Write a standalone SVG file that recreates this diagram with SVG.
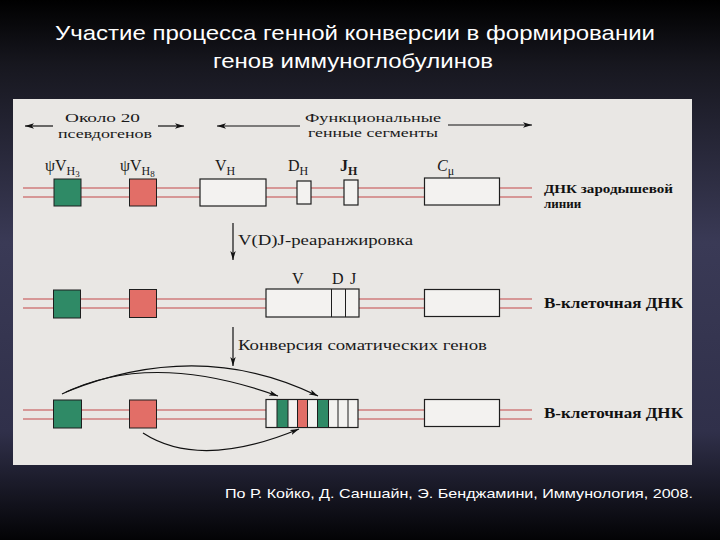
<svg xmlns="http://www.w3.org/2000/svg" width="720" height="540" viewBox="0 0 720 540">
<defs>
<linearGradient id="bg" x1="0" y1="0" x2="0" y2="1">
<stop offset="0" stop-color="#000000"/>
<stop offset="0.12" stop-color="#17171f"/>
<stop offset="0.45" stop-color="#3a3a56"/>
<stop offset="0.8" stop-color="#30304a"/>
<stop offset="1" stop-color="#030305"/>
</linearGradient>
<marker id="ah" viewBox="0 0 10 6" refX="10" refY="3" markerWidth="9" markerHeight="5.4" markerUnits="userSpaceOnUse" orient="auto">
<path d="M0,0 L10,3 L0,6 L2.5,3 Z" fill="#111"/>
</marker>
<style>
.title{font-family:"Liberation Sans",Arial,sans-serif;fill:#ffffff;font-size:21px}
.foot{font-family:"Liberation Sans",Arial,sans-serif;fill:#ffffff;font-size:13px}
.lbl{font-family:"Liberation Serif","Times New Roman",serif;fill:#1a1a1a;font-size:15px}
.hd{font-family:"Liberation Serif","Times New Roman",serif;fill:#1a1a1a;font-size:13.5px}
.big{font-family:"Liberation Serif","Times New Roman",serif;fill:#1a1a1a;font-size:16px}
.bold{font-family:"Liberation Serif","Times New Roman",serif;fill:#111;font-size:13px;font-weight:bold}
.bold2{font-family:"Liberation Serif","Times New Roman",serif;fill:#111;font-size:14.5px;font-weight:bold}
.dna{stroke:#cf7d7d;stroke-width:1.6;fill:none}
.g{fill:#2f8a66;stroke:#1e1e1e;stroke-width:1}
.r{fill:#e26e67;stroke:#1e1e1e;stroke-width:1}
.w{fill:#f3f2f0;stroke:#1e1e1e;stroke-width:1.2}
.ln{stroke:#1e1e1e;stroke-width:1;fill:none}
.arr{stroke:#111;stroke-width:1.2;fill:none;marker-end:url(#ah)}
</style>
</defs>
<rect width="720" height="540" fill="url(#bg)"/>
<text class="title" x="355" y="40" text-anchor="middle" textLength="600" lengthAdjust="spacingAndGlyphs">Участие процесса генной конверсии в формировании</text>
<text class="title" x="353" y="68" text-anchor="middle" textLength="280" lengthAdjust="spacingAndGlyphs">генов иммуноглобулинов</text>
<rect x="13" y="99" width="679" height="366" fill="#e9e7e4"/>

<g id="header">
<text class="hd" x="65" y="122" textLength="75" lengthAdjust="spacingAndGlyphs">Около 20</text>
<text class="hd" x="58" y="137.5" textLength="94" lengthAdjust="spacingAndGlyphs">псевдогенов</text>
<text class="hd" x="305" y="121.5" textLength="136" lengthAdjust="spacingAndGlyphs">Функциональные</text>
<text class="hd" x="308" y="137" textLength="130" lengthAdjust="spacingAndGlyphs">генные сегменты</text>
</g>

<g id="row1">
<line class="dna" x1="23" y1="188" x2="532" y2="188"/>
<line class="dna" x1="23" y1="197" x2="532" y2="197"/>
<g id="psiVH3"><rect class="g" x="54" y="179" width="27" height="27"/><text class="big" x="45" y="171">ψV<tspan font-size="12" dy="4">H</tspan><tspan font-size="9" dy="2">3</tspan></text></g>
<g id="psiVH8"><rect class="r" x="129.5" y="179" width="27" height="27"/><text class="big" x="120" y="171">ψV<tspan font-size="12" dy="4">H</tspan><tspan font-size="9" dy="2">8</tspan></text></g>
<g id="VH"><rect class="w" x="200" y="179" width="66" height="27"/><text class="big" x="215" y="171">V<tspan font-size="12" dy="4">H</tspan></text></g>
<g id="DH"><rect class="w" x="297" y="181" width="14" height="23"/><text class="big" x="288" y="171">D<tspan font-size="12" dy="4">H</tspan></text></g>
<g id="JH"><rect class="w" x="344" y="180" width="14" height="25"/><text class="big" x="340" y="171" font-weight="bold">J<tspan font-size="12" dy="4">H</tspan></text></g>
<g id="Cmu1"><rect class="w" x="424.5" y="178" width="75" height="27"/><text class="big" x="437" y="171" font-style="italic">C<tspan font-size="12" dy="4" font-style="normal">μ</tspan></text></g>
<text class="bold" x="544" y="193" textLength="129" lengthAdjust="spacingAndGlyphs">ДНК зародышевой</text>
<text class="bold" x="544" y="208">линии</text>
</g>

<g id="row2">
<line class="dna" x1="23" y1="299" x2="532" y2="299"/>
<line class="dna" x1="23" y1="308" x2="532" y2="308"/>
<g id="g2"><rect class="g" x="53.5" y="290" width="27" height="28"/></g>
<g id="r2"><rect class="r" x="129.5" y="289.5" width="27" height="28"/></g>
<g id="VDJ"><rect class="w" x="266" y="289" width="93" height="28"/><line class="ln" x1="331.5" y1="289" x2="331.5" y2="317"/><line class="ln" x1="345.5" y1="289" x2="345.5" y2="317"/>
<text class="big" x="292" y="284">V</text><text class="big" x="332" y="284">D</text><text class="big" x="350" y="284">J</text></g>
<g id="Cmu2"><rect class="w" x="424.5" y="289.5" width="75" height="27"/></g>
<text class="bold2" x="544" y="308" textLength="139" lengthAdjust="spacingAndGlyphs">В-клеточная ДНК</text>
</g>

<g id="row3">
<line class="dna" x1="23" y1="410" x2="532" y2="410"/>
<line class="dna" x1="23" y1="419" x2="532" y2="419"/>
<g id="g3"><rect class="g" x="53.5" y="400" width="28" height="28"/></g>
<g id="r3"><rect class="r" x="129.5" y="400" width="27" height="28"/></g>
<g id="conv">
<rect class="w" x="266" y="399.5" width="92" height="28"/>
<rect class="g" x="277" y="399.5" width="11" height="28"/>
<rect class="r" x="297.5" y="399.5" width="10" height="28"/>
<rect class="g" x="317.5" y="399.5" width="11" height="28"/>
<line class="ln" x1="338" y1="399.5" x2="338" y2="427.5"/>
<line class="ln" x1="348" y1="399.5" x2="348" y2="427.5"/>
</g>
<g id="Cmu3"><rect class="w" x="424.5" y="399.5" width="75" height="27"/></g>
<text class="bold2" x="544" y="418" textLength="139" lengthAdjust="spacingAndGlyphs">В-клеточная ДНК</text>
</g>

<g id="connectors">
<line class="arr" x1="53" y1="126" x2="25" y2="126"/>
<line class="arr" x1="158" y1="126" x2="184" y2="126"/>
<line class="arr" x1="300" y1="126" x2="217" y2="126"/>
<line class="arr" x1="448" y1="125" x2="532" y2="125"/>
<line class="arr" x1="233" y1="223" x2="233" y2="260"/>
<text class="lbl" x="238" y="245" textLength="175" lengthAdjust="spacingAndGlyphs">V(D)J-реаранжировка</text>
<line class="arr" x1="233" y1="327" x2="233" y2="366"/>
<text class="lbl" x="238" y="350" textLength="249" lengthAdjust="spacingAndGlyphs">Конверсия соматических генов</text>
<path class="arr" d="M62 394 Q150 350 278 396"/>
<path class="arr" d="M66 392 Q200 338 318 396"/>
<path class="arr" d="M143 433 Q200 470 299 429"/>
</g>

<text class="foot" x="225" y="498" textLength="468" lengthAdjust="spacingAndGlyphs">По  Р. Койко, Д. Саншайн, Э. Бенджамини, Иммунология, 2008.</text>
</svg>
